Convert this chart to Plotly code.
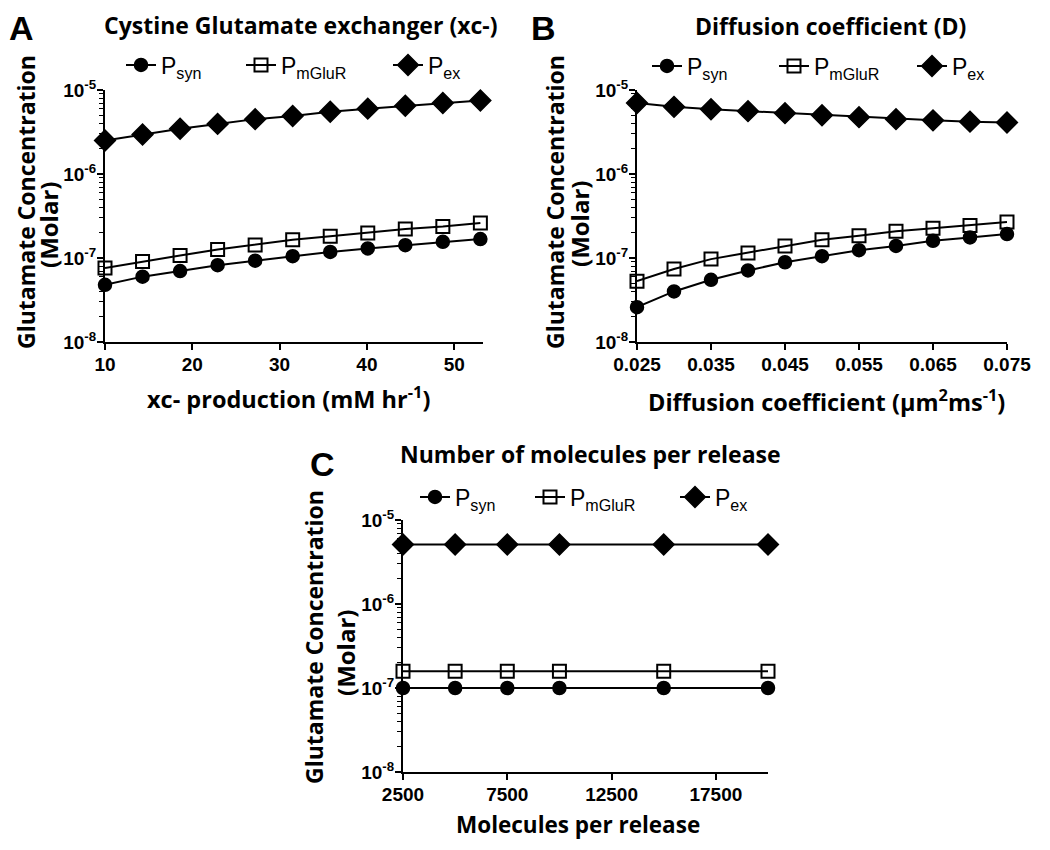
import plotly.graph_objects as go

# ---------------- data ----------------
series_names = ["P<sub>syn</sub>", "P<sub>mGluR</sub>", "P<sub>ex</sub>"]

# Panel A: xc- production (mM hr^-1)
xc_prod = [10.0, 14.3, 18.6, 22.9, 27.2, 31.5, 35.8, 40.1, 44.4, 48.7, 53.0]
a_syn = [4.8e-8, 6.0e-8, 7.0e-8, 8.2e-8, 9.3e-8, 1.05e-7, 1.18e-7, 1.30e-7, 1.42e-7, 1.56e-7, 1.68e-7]
a_mglur = [7.6e-8, 9.1e-8, 1.07e-7, 1.26e-7, 1.43e-7, 1.65e-7, 1.81e-7, 1.99e-7, 2.22e-7, 2.37e-7, 2.61e-7]
a_ex = [2.5e-6, 2.95e-6, 3.45e-6, 3.95e-6, 4.5e-6, 4.9e-6, 5.5e-6, 6.0e-6, 6.5e-6, 7.0e-6, 7.5e-6]

# Panel B: diffusion coefficient (um^2 ms^-1)
diff_coef = [0.025, 0.030, 0.035, 0.040, 0.045, 0.050, 0.055, 0.060, 0.065, 0.070, 0.075]
b_syn = [2.6e-8, 4.0e-8, 5.5e-8, 7.1e-8, 8.9e-8, 1.05e-7, 1.24e-7, 1.39e-7, 1.60e-7, 1.76e-7, 1.93e-7]
b_mglur = [5.3e-8, 7.4e-8, 9.7e-8, 1.15e-7, 1.39e-7, 1.65e-7, 1.84e-7, 2.08e-7, 2.26e-7, 2.44e-7, 2.68e-7]
b_ex = [7.0e-6, 6.3e-6, 5.9e-6, 5.6e-6, 5.3e-6, 5.0e-6, 4.75e-6, 4.5e-6, 4.35e-6, 4.2e-6, 4.1e-6]

# Panel C: molecules per release
molecules = [2500, 5000, 7500, 10000, 15000, 20000]
c_syn = [1.0e-7, 1.0e-7, 1.0e-7, 1.0e-7, 1.0e-7, 1.0e-7]
c_mglur = [1.58e-7, 1.58e-7, 1.58e-7, 1.58e-7, 1.58e-7, 1.58e-7]
c_ex = [5.1e-6, 5.1e-6, 5.1e-6, 5.1e-6, 5.1e-6, 5.1e-6]

y_tickvals = [1e-8, 1e-7, 1e-6, 1e-5]
y_ticktext = ["10<sup>-8</sup>", "10<sup>-7</sup>", "10<sup>-6</sup>", "10<sup>-5</sup>"]

a_xticks = [10, 20, 30, 40, 50]
b_xticks = [0.025, 0.035, 0.045, 0.055, 0.065, 0.075]
c_xticks = [2500, 7500, 12500, 17500]
c_xticktext = ["2500", "7500", "12500", "17500"]

y_title_1 = "Glutamate Concentration"
y_title_2 = "(Molar)"
x_titles = ["xc- production (mM hr<sup>-1</sup>)",
            "Diffusion coefficient (\u03bcm<sup>2</sup>ms<sup>-1</sup>)",
            "Molecules per release"]
panel_titles = ["Cystine Glutamate exchanger (xc-)", "Diffusion coefficient (D)",
                "Number of molecules per release"]

# ---------------- layout helpers (page pixels -> paper fractions) ----------------
W, H = 1034, 834          # figure size; page body adds an 8px margin
OFF = 8

def X(p):
    return (p - OFF) / W

def Y(p):
    return 1 - (p - OFF) / H

TITLE_FONT = "Open Sans"
TICK_FONT = "Liberation Sans"
marker_styles = [
    dict(symbol="circle", size=13, color="black", line=dict(color="black", width=1.5)),
    dict(symbol="square-open", size=13, color="black", line=dict(color="black", width=2)),
    dict(symbol="diamond", size=16, color="black", line=dict(color="black", width=1.5)),
]
minor_vals = [m * 10 ** e for e in (-8, -7, -6) for m in range(2, 10)]

# legend marker centres (page px) per panel, and legend row y
legend_pos = [
    ([146, 266, 413], 65),
    ([672, 799, 937], 66),
    ([440, 555, 700], 497),
]

fig = go.Figure()

panels = [
    ("x", "y", xc_prod, [a_syn, a_mglur, a_ex]),
    ("x2", "y2", diff_coef, [b_syn, b_mglur, b_ex]),
    ("x3", "y3", molecules, [c_syn, c_mglur, c_ex]),
]
legend_layout = {}
k = 0
for (xa, ya, xs, ys_list), (lx_list, ly) in zip(panels, legend_pos):
    for name, ys, ms, lx in zip(series_names, ys_list, marker_styles, lx_list):
        k += 1
        lg = "legend" if k == 1 else f"legend{k}"
        fig.add_trace(go.Scatter(
            x=xs, y=ys, name=name, mode="lines+markers",
            line=dict(color="black", width=2), marker=ms,
            xaxis=xa, yaxis=ya, legend=lg, cliponaxis=False,
        ))
        legend_layout[lg] = dict(
            x=X(lx - 25), y=Y(ly), xanchor="left", yanchor="middle",
            orientation="h", bgcolor="rgba(0,0,0,0)", borderwidth=0,
            font=dict(family=TICK_FONT, size=23, color="black"),
        )

tickfont = dict(family=TICK_FONT, size=19, color="black", weight="bold")

def yaxis_cfg(domain, anchor):
    return dict(
        type="log", range=[-8, -5], domain=domain, anchor=anchor,
        tickvals=y_tickvals, ticktext=y_ticktext, tickfont=tickfont,
        showline=True, linecolor="black", linewidth=2,
        ticks="outside", ticklen=6, tickwidth=2, tickcolor="black",
        ticklabelstandoff=-3,
        minor=dict(tickvals=minor_vals, ticks="outside", ticklen=4, tickwidth=1, tickcolor="black"),
        showgrid=False, zeroline=False, automargin=False,
    )

def xaxis_cfg(domain, anchor, rng, tickvals, ticktext=None):
    d = dict(
        range=rng, domain=domain, anchor=anchor,
        tickvals=tickvals, tickfont=tickfont,
        showline=True, linecolor="black", linewidth=2,
        ticks="outside", ticklen=6, tickwidth=2, tickcolor="black",
        ticklabelstandoff=-2,
        showgrid=False, zeroline=False, automargin=False,
    )
    if ticktext is not None:
        d["ticktext"] = ticktext
    return d

yd_top = [Y(342), Y(90)]
yd_bot = [Y(772), Y(520)]

fig.update_layout(
    width=W, height=H,
    margin=dict(l=0, r=0, t=0, b=0, autoexpand=False),
    paper_bgcolor="white", plot_bgcolor="white",
    showlegend=True,
    xaxis=xaxis_cfg([X(105), X(483)], "y", [10, 53.3], a_xticks),
    yaxis=yaxis_cfg(yd_top, "x"),
    xaxis2=xaxis_cfg([X(637), X(1007)], "y2", [0.025, 0.075], b_xticks),
    yaxis2=yaxis_cfg(yd_top, "x2"),
    xaxis3=xaxis_cfg([X(403), X(768)], "y3", [2500, 20000], c_xticks, c_xticktext),
    yaxis3=yaxis_cfg(yd_bot, "x3"),
    **legend_layout,
)

def add_text(text, x, y, size, family, xanchor="center", yanchor="middle", angle=0):
    fig.add_annotation(
        text=text, xref="paper", yref="paper", x=X(x), y=Y(y),
        xanchor=xanchor, yanchor=yanchor, textangle=angle,
        showarrow=False, borderpad=0,
        font=dict(family=family, size=size, color="black", weight="bold"),
    )

# panel letters and titles (top row anchored at the top so they stay inside the figure)
add_text("A", 8, 8, 34, TICK_FONT, "left", "top")
add_text(panel_titles[0], 301, 8, 23, TITLE_FONT, "center", "top")
add_text("B", 530, 8, 34, TICK_FONT, "left", "top")
add_text(panel_titles[1], 830, 9, 23, TITLE_FONT, "center", "top")
add_text("C", 309, 464, 34, TICK_FONT, "left", "middle")
add_text(panel_titles[2], 590, 454, 23, TITLE_FONT)

# y-axis titles (two lines each)
for (x1, y1), (x2, y2) in [((26, 202), (49, 225)),
                           ((555, 202), (580, 224)),
                           ((314, 637), (345, 653))]:
    add_text(y_title_1, x1, y1, 23, TITLE_FONT, angle=-90)
    add_text(y_title_2, x2, y2, 24, TITLE_FONT, angle=-90)

# x-axis titles
add_text(x_titles[0], 288, 397, 23.5, TITLE_FONT)
add_text(x_titles[1], 826, 401, 23.5, TITLE_FONT)
add_text(x_titles[2], 578, 841, 22.5, TITLE_FONT, "center", "bottom")

fig.write_html("out.html")
